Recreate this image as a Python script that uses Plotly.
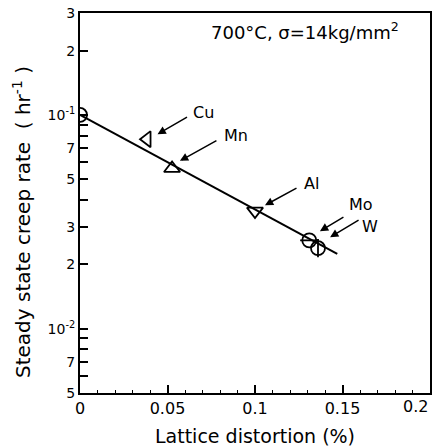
import numpy as np
import plotly.graph_objects as go

# ---- data ----
elements = ["Base", "Cu", "Mn", "Al", "Mo", "W"]
distortion = [0.0, 0.0383, 0.0526, 0.100, 0.131, 0.136]
creep_rate = [0.100, 0.0770, 0.0562, 0.0355, 0.0259, 0.0238]
symbols = ["circle-open", "triangle-left-open", "triangle-up-open",
           "triangle-down-open", "circle-open", "circle-open"]

line_x = [0.0, 0.147]
line_y = [0.100, 0.0224]

# label arrow heads (data) and label offsets (pixels)
label_names = ["Cu", "Mn", "Al", "Mo", "W"]
head_x = [0.0443, 0.0571, 0.1057, 0.1371, 0.1429]
head_y = [0.0812, 0.0610, 0.0378, 0.0286, 0.0268]
tail_dx = [31, 38, 33, 25, 30]
tail_dy = [-18, -21, -18, -15, -18]
text_dx = [46, 56, 47, 41, 40]
text_dy = [-22, -25, -22, -27, -11]

y_tickvals = [0.005, 0.006, 0.007, 0.008, 0.009, 0.01, 0.02, 0.03, 0.04, 0.05,
              0.06, 0.07, 0.08, 0.09, 0.1, 0.2, 0.3]
y_ticktext = ["5", "", "7", "", "", "10<sup>-2</sup>", "2", "3", "", "5",
              "", "7", "", "", "10<sup>-1</sup>", "2", "3"]
x_tickvals = [0, 0.05, 0.1, 0.15, 0.2]
x_ticktext = ["0", "0.05", "0.1", "0.15", ""]
x_last_label = "0.2"

FONT = "DejaVu Sans"

fig = go.Figure()
fig.add_trace(go.Scatter(x=line_x, y=line_y, mode="lines",
                         line=dict(color="black", width=2), showlegend=False,
                         hoverinfo="skip"))
fig.add_trace(go.Scatter(x=distortion, y=creep_rate, mode="markers",
                         marker=dict(symbol=symbols, size=14, color="black",
                                     line=dict(color="black", width=1.8)),
                         showlegend=False))
# inner lines of Mo (horizontal) and W (vertical) markers
fig.add_trace(go.Scatter(x=[distortion[4], distortion[5]],
                         y=[creep_rate[4], creep_rate[5]], mode="markers",
                         marker=dict(symbol=["line-ew", "line-ns"], size=13,
                                     color="black",
                                     line=dict(color="black", width=1.8)),
                         showlegend=False))

for n, hx, hy, tdx, tdy, lx, ly in zip(label_names, head_x, head_y, tail_dx,
                                       tail_dy, text_dx, text_dy):
    fig.add_annotation(x=hx, y=np.log10(hy), ax=tdx, ay=tdy, text="",
                       showarrow=True, arrowhead=2, arrowsize=1.1,
                       arrowwidth=1.5, arrowcolor="black")
    fig.add_annotation(x=hx, y=np.log10(hy), xshift=lx, yshift=-ly, text=n,
                       showarrow=False, font=dict(size=16, color="black",
                                                  family=FONT))

fig.add_annotation(x=(305 - 80) / 350, y=(393 - 31) / 380, xref="paper",
                   yref="paper", xanchor="center", yanchor="middle",
                   text="700°C, σ=14kg/mm<sup>2</sup>", showarrow=False,
                   font=dict(size=18, color="black", family=FONT))

fig.add_annotation(x=(22 - 80) / 350, y=(393 - 222) / 380, xref="paper",
                   yref="paper", textangle=-90, xanchor="center",
                   yanchor="middle", showarrow=False,
                   text="Steady state creep rate  ( hr<sup>-1</sup> )",
                   font=dict(size=20, color="black", family=FONT))

fig.add_annotation(x=1.0, y=0, xref="paper", yref="paper", xanchor="right",
                   yanchor="top", yshift=-2, showarrow=False,
                   text=x_last_label,
                   font=dict(size=16, color="black", family=FONT))

fig.update_xaxes(range=[0, 0.2], tickmode="array", tickvals=x_tickvals,
                 ticktext=x_ticktext, ticks="inside", ticklen=8, tickwidth=1.5,
                 tickcolor="black", automargin=False,
                 minor=dict(ticks="inside", dtick=0.01, ticklen=3,
                            tickcolor="black", tickwidth=1.2),
                 showline=True, linecolor="black", linewidth=2, mirror=True,
                 showgrid=False, zeroline=False,
                 tickfont=dict(size=16, color="black", family=FONT),
                 title=dict(text="Lattice distortion (%)", standoff=12,
                            font=dict(size=19, color="black", family=FONT)))
fig.update_yaxes(type="log", range=[np.log10(0.005), np.log10(0.3)],
                 tickmode="array", tickvals=y_tickvals, ticktext=y_ticktext,
                 ticks="inside", ticklen=8, tickwidth=1.5, tickcolor="black",
                 automargin=False,
                 showline=True, linecolor="black", linewidth=2, mirror=True,
                 showgrid=False, zeroline=False,
                 tickfont=dict(size=14, color="black", family=FONT))

fig.update_layout(width=439, height=448,
                  margin=dict(l=80, r=9, t=13, b=55),
                  plot_bgcolor="white", paper_bgcolor="white")

fig.write_html("out.html")
